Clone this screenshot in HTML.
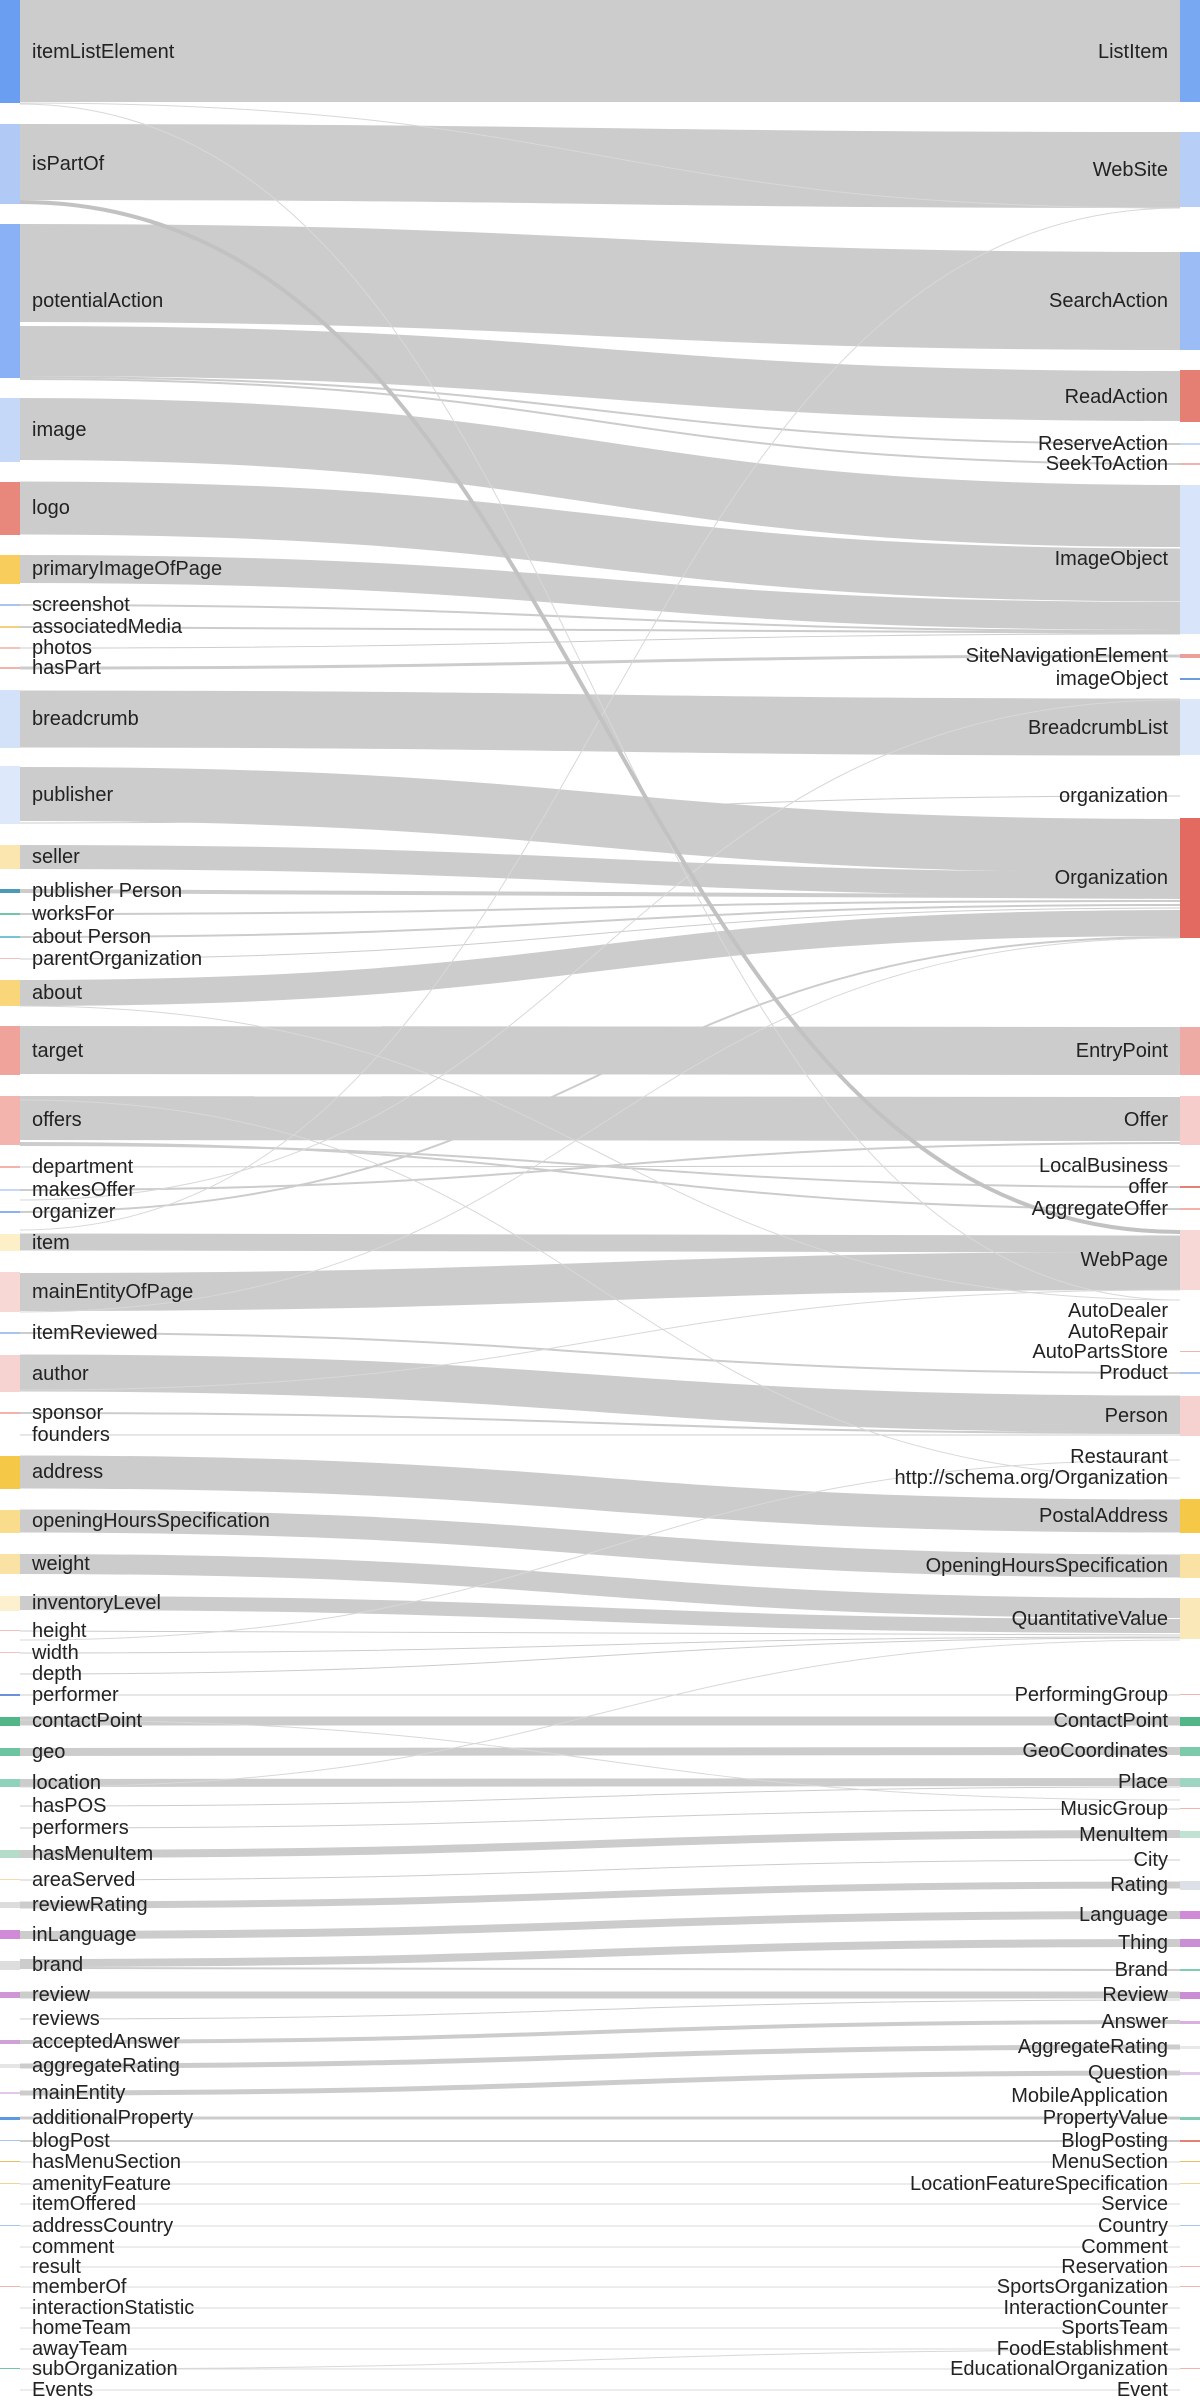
<!DOCTYPE html>
<html><head><meta charset="utf-8"><style>
html,body{margin:0;padding:0;background:#fff;}
svg{display:block;}
text{font-family:"Liberation Sans",sans-serif;font-size:20px;fill:#222;dominant-baseline:central;}
.r{text-anchor:end;}
</style></head><body>
<svg width="1200" height="2400" viewBox="0 0 1200 2400" xmlns="http://www.w3.org/2000/svg">
<g fill="none" stroke="#cccccc">
<path d="M20,51 C600,51 600,51 1180,51" stroke-width="102"/>
<path d="M20,162 C600,162 600,170 1180,170" stroke-width="76"/>
<path d="M20,273 C600,273 600,301 1180,301" stroke-width="98"/>
<path d="M20,351 C600,351 600,396 1180,396" stroke-width="50"/>
<path d="M20,429 C600,429 600,516 1180,516" stroke-width="62"/>
<path d="M20,508 C600,508 600,575 1180,575" stroke-width="53"/>
<path d="M20,569 C600,569 600,616 1180,616" stroke-width="28"/>
<path d="M20,719 C600,719 600,727 1180,727" stroke-width="57"/>
<path d="M20,794 C600,794 600,846 1180,846" stroke-width="54"/>
<path d="M20,857 C600,857 600,884 1180,884" stroke-width="24"/>
<path d="M20,993 C600,993 600,923 1180,923" stroke-width="26"/>
<path d="M20,1050 C600,1050 600,1051 1180,1051" stroke-width="48"/>
<path d="M20,1118 C600,1118 600,1119 1180,1119" stroke-width="44"/>
<path d="M20,1242 C600,1242 600,1244 1180,1244" stroke-width="17"/>
<path d="M20,1292 C600,1292 600,1271 1180,1271" stroke-width="38"/>
<path d="M20,1373 C600,1373 600,1414 1180,1414" stroke-width="37"/>
<path d="M20,1472 C600,1472 600,1516 1180,1516" stroke-width="33"/>
<path d="M20,1521 C600,1521 600,1566 1180,1566" stroke-width="23"/>
<path d="M20,1564 C600,1564 600,1608 1180,1608" stroke-width="20"/>
<path d="M20,1603 C600,1603 600,1626 1180,1626" stroke-width="14"/>
<path d="M20,1721 C600,1721 600,1721 1180,1721" stroke-width="9"/>
<path d="M20,1752 C600,1752 600,1751 1180,1751" stroke-width="8"/>
<path d="M20,1783 C600,1783 600,1782 1180,1782" stroke-width="8"/>
<path d="M20,1854 C600,1854 600,1834 1180,1834" stroke-width="8"/>
<path d="M20,1905 C600,1905 600,1885 1180,1885" stroke-width="7"/>
<path d="M20,1935 C600,1935 600,1915 1180,1915" stroke-width="8"/>
<path d="M20,1963 C600,1963 600,1943 1180,1943" stroke-width="8"/>
<path d="M20,1995 C600,1995 600,1995 1180,1995" stroke-width="7"/>
<path d="M20,2042 C600,2042 600,2022 1180,2022" stroke-width="4"/>
<path d="M20,2066 C600,2066 600,2047 1180,2047" stroke-width="5"/>
<path d="M20,2093 C600,2093 600,2073 1180,2073" stroke-width="5"/>
<path d="M20,2118 C600,2118 600,2118 1180,2118" stroke-width="3"/>
<path d="M20,2141 C600,2141 600,2141 1180,2141" stroke-width="2"/>
<path d="M20,1968 C600,1968 600,1970 1180,1970" stroke-width="2"/>
<path d="M20,891 C600,891 600,897 1180,897" stroke-width="4"/>
<path d="M20,914 C600,914 600,901 1180,901" stroke-width="2"/>
<path d="M20,937 C600,937 600,905 1180,905" stroke-width="2"/>
<path d="M20,959 C600,959 600,908 1180,908" stroke-width="1"/>
<path d="M20,605 C600,605 600,631 1180,631" stroke-width="2"/>
<path d="M20,627 C600,627 600,633 1180,633" stroke-width="2"/>
<path d="M20,648 C600,648 600,634 1180,634" stroke-width="1"/>
<path d="M20,668 C600,668 600,656 1180,656" stroke-width="3"/>
<path d="M20,377 C600,377 600,444 1180,444" stroke-width="2"/>
<path d="M20,379 C600,379 600,464 1180,464" stroke-width="2"/>
<path d="M20,1190 C600,1190 600,1143 1180,1143" stroke-width="2"/>
<path d="M20,1167 C600,1167 600,1166 1180,1166" stroke-width="1"/>
<path d="M20,1212 C600,1212 600,937 1180,937" stroke-width="2"/>
<path d="M20,1333 C600,1333 600,1373 1180,1373" stroke-width="2"/>
<path d="M20,1413 C600,1413 600,1433 1180,1433" stroke-width="2"/>
<path d="M20,1435 C600,1435 600,1435 1180,1435" stroke-width="1"/>
<path d="M20,1631 C600,1631 600,1635 1180,1635" stroke-width="1"/>
<path d="M20,1653 C600,1653 600,1637 1180,1637" stroke-width="1"/>
<path d="M20,1674 C600,1674 600,1638 1180,1638" stroke-width="1"/>
<path d="M20,1695 C600,1695 600,1695 1180,1695" stroke-width="1"/>
<path d="M20,1806 C600,1806 600,1787 1180,1787" stroke-width="1"/>
<path d="M20,1828 C600,1828 600,1809 1180,1809" stroke-width="1"/>
<path d="M20,1880 C600,1880 600,1860 1180,1860" stroke-width="1"/>
<path d="M20,2019 C600,2019 600,2000 1180,2000" stroke-width="1"/>
<path d="M20,1145 C600,1145 600,1187 1180,1187" stroke-width="2"/>
<path d="M20,1143 C600,1143 600,1209 1180,1209" stroke-width="2"/>
<path d="M20,823 C600,823 600,796 1180,796" stroke-width="1"/>
</g>
<g fill="none" stroke="#d8d8d8" stroke-width="1">
<path d="M20,2162 L1180,2162"/><path d="M20,2184 L1180,2184"/><path d="M20,2204 L1180,2204"/>
<path d="M20,2226 L1180,2226"/><path d="M20,2247 L1180,2247"/><path d="M20,2267 L1180,2267"/>
<path d="M20,2287 L1180,2287"/><path d="M20,2308 L1180,2308"/><path d="M20,2328 L1180,2328"/>
<path d="M20,2349 L1180,2349"/><path d="M20,2369 L1180,2369"/><path d="M20,2390 L1180,2390"/>
<path d="M20,103 C600,103 600,208 1180,208"/>
<path d="M20,104 C600,104 600,1300 1180,1300"/>
<path d="M20,1230 C600,1230 600,208 1180,208"/>
<path d="M20,1200 C600,1200 600,700 1180,700"/>
<path d="M20,1312 C600,1312 600,938 1180,938"/>
<path d="M20,1390 C600,1390 600,1290 1180,1290"/>
<path d="M20,1006 C600,1006 600,1300 1180,1300"/>
<path d="M20,1787 C600,1787 600,1640 1180,1640"/>
<path d="M20,1720 C600,1720 600,1800 1180,1800"/>
<path d="M20,1640 C600,1640 600,1460 1180,1460"/>
<path d="M20,1100 C600,1100 600,1478 1180,1478"/>
<path d="M20,2369 C600,2369 600,2350 1180,2350"/>
</g>
<path d="M20,202 C600,202 600,1232 1180,1232" fill="none" stroke="#c2c2c2" stroke-width="4"/>
<!-- left bars -->
<g>
<rect x="0" y="0" width="20" height="103" fill="#6a9ef0"/>
<rect x="0" y="124" width="20" height="80" fill="#b0c9f5"/>
<rect x="0" y="224" width="20" height="154" fill="#8ab0f5"/>
<rect x="0" y="398" width="20" height="64" fill="#c6d8f8"/>
<rect x="0" y="482" width="20" height="53" fill="#e8877c"/>
<rect x="0" y="555" width="20" height="29" fill="#f8cd5c"/>
<rect x="0" y="604" width="20" height="2" fill="#a9c4ef"/>
<rect x="0" y="626" width="20" height="2" fill="#f2d080"/>
<rect x="0" y="647" width="20" height="2" fill="#f6c2bd"/>
<rect x="0" y="667" width="20" height="2" fill="#f3b2ac"/>
<rect x="0" y="690" width="20" height="58" fill="#d4e2f9"/>
<rect x="0" y="766" width="20" height="58" fill="#dde8fb"/>
<rect x="0" y="845" width="20" height="24" fill="#fbe6b0"/>
<rect x="0" y="889" width="20" height="4" fill="#4a9ab8"/>
<rect x="0" y="913" width="20" height="2" fill="#6fc6a8"/>
<rect x="0" y="936" width="20" height="2" fill="#78c2d8"/>
<rect x="0" y="958" width="20" height="1" fill="#f3c0bb"/>
<rect x="0" y="980" width="20" height="26" fill="#f9d67a"/>
<rect x="0" y="1026" width="20" height="49" fill="#efa39a"/>
<rect x="0" y="1096" width="20" height="49" fill="#f4b4ae"/>
<rect x="0" y="1166" width="20" height="2" fill="#f3b2ac"/>
<rect x="0" y="1189" width="20" height="2" fill="#c6d8f8"/>
<rect x="0" y="1211" width="20" height="2" fill="#8ab0f5"/>
<rect x="0" y="1234" width="20" height="17" fill="#fdefc8"/>
<rect x="0" y="1272" width="20" height="40" fill="#f8d8d5"/>
<rect x="0" y="1332" width="20" height="2" fill="#a9c4ef"/>
<rect x="0" y="1355" width="20" height="37" fill="#f6d3d1"/>
<rect x="0" y="1412" width="20" height="2" fill="#f3b2ac"/>
<rect x="0" y="1456" width="20" height="33" fill="#f6c847"/>
<rect x="0" y="1510" width="20" height="23" fill="#f9dc8c"/>
<rect x="0" y="1554" width="20" height="20" fill="#f9e2a4"/>
<rect x="0" y="1596" width="20" height="15" fill="#fdf0cf"/>
<rect x="0" y="1630" width="20" height="1" fill="#f3c0bb"/>
<rect x="0" y="1652" width="20" height="1" fill="#f3c0bb"/>
<rect x="0" y="1694" width="20" height="2" fill="#6b8fdb"/>
<rect x="0" y="1717" width="20" height="9" fill="#52b688"/>
<rect x="0" y="1748" width="20" height="8" fill="#6dc4a0"/>
<rect x="0" y="1779" width="20" height="8" fill="#8fd1bb"/>
<rect x="0" y="1850" width="20" height="8" fill="#b5dcc9"/>
<rect x="0" y="1879" width="20" height="1" fill="#f5dca0"/>
<rect x="0" y="1902" width="20" height="6" fill="#dcdcdc"/>
<rect x="0" y="1930" width="20" height="9" fill="#d08ad6"/>
<rect x="0" y="1961" width="20" height="9" fill="#dddddd"/>
<rect x="0" y="1992" width="20" height="6" fill="#cf96d6"/>
<rect x="0" y="2040" width="20" height="4" fill="#d0a0d8"/>
<rect x="0" y="2064" width="20" height="4" fill="#e5e5e5"/>
<rect x="0" y="2092" width="20" height="2" fill="#e2c8e8"/>
<rect x="0" y="2117" width="20" height="3" fill="#5c9ae0"/>
<rect x="0" y="2140" width="20" height="1" fill="#a9c4ef"/>
<rect x="0" y="2161" width="20" height="1" fill="#e5c060"/>
<rect x="0" y="2183" width="20" height="1" fill="#eed890"/>
<rect x="0" y="2225" width="20" height="1" fill="#a9c4ef"/>
<rect x="0" y="2286" width="20" height="1" fill="#f3b2ac"/>
<rect x="0" y="2368" width="20" height="1" fill="#6fc6a8"/>
</g>
<!-- right bars -->
<g>
<rect x="1180" y="0" width="20" height="102" fill="#79a8f3"/>
<rect x="1180" y="132" width="20" height="75" fill="#b7cff7"/>
<rect x="1180" y="252" width="20" height="98" fill="#9cbcf5"/>
<rect x="1180" y="370" width="20" height="52" fill="#e57f74"/>
<rect x="1180" y="443" width="20" height="2" fill="#c6d8f8"/>
<rect x="1180" y="463" width="20" height="2" fill="#f3b2ac"/>
<rect x="1180" y="485" width="20" height="149" fill="#d8e4fa"/>
<rect x="1180" y="654" width="20" height="4" fill="#ec9f98"/>
<rect x="1180" y="678" width="20" height="2" fill="#6b9bdb"/>
<rect x="1180" y="699" width="20" height="56" fill="#dde7fa"/>
<rect x="1180" y="818" width="20" height="120" fill="#e26a60"/>
<rect x="1180" y="1027" width="20" height="48" fill="#eeaaa5"/>
<rect x="1180" y="1096" width="20" height="49" fill="#f6cdca"/>
<rect x="1180" y="1186" width="20" height="2" fill="#e57f74"/>
<rect x="1180" y="1208" width="20" height="2" fill="#f3b2ac"/>
<rect x="1180" y="1230" width="20" height="60" fill="#f8d8d6"/>
<rect x="1180" y="1351" width="20" height="1" fill="#f3b2ac"/>
<rect x="1180" y="1372" width="20" height="2" fill="#a9c4ef"/>
<rect x="1180" y="1396" width="20" height="40" fill="#f5d2d0"/>
<rect x="1180" y="1499" width="20" height="34" fill="#f6c847"/>
<rect x="1180" y="1554" width="20" height="24" fill="#f9e2a4"/>
<rect x="1180" y="1598" width="20" height="41" fill="#fbe8b8"/>
<rect x="1180" y="1694" width="20" height="1" fill="#f3b2ac"/>
<rect x="1180" y="1717" width="20" height="9" fill="#52b688"/>
<rect x="1180" y="1747" width="20" height="9" fill="#7ccaaa"/>
<rect x="1180" y="1778" width="20" height="9" fill="#9ed5c2"/>
<rect x="1180" y="1808" width="20" height="1" fill="#f3b2ac"/>
<rect x="1180" y="1831" width="20" height="7" fill="#c0e2d2"/>
<rect x="1180" y="1881" width="20" height="9" fill="#dde0e6"/>
<rect x="1180" y="1911" width="20" height="8" fill="#d08ad6"/>
<rect x="1180" y="1939" width="20" height="8" fill="#c98ed3"/>
<rect x="1180" y="1969" width="20" height="2" fill="#7fccb0"/>
<rect x="1180" y="1992" width="20" height="7" fill="#c98ed3"/>
<rect x="1180" y="2021" width="20" height="3" fill="#dab0e0"/>
<rect x="1180" y="2046" width="20" height="3" fill="#e8e8e8"/>
<rect x="1180" y="2072" width="20" height="3" fill="#e2c8e8"/>
<rect x="1180" y="2117" width="20" height="3" fill="#7fccb0"/>
<rect x="1180" y="2140" width="20" height="2" fill="#e57f74"/>
<rect x="1180" y="2161" width="20" height="1" fill="#e5c060"/>
<rect x="1180" y="2183" width="20" height="1" fill="#eed890"/>
<rect x="1180" y="2225" width="20" height="1" fill="#a9c4ef"/>
<rect x="1180" y="2266" width="20" height="1" fill="#f3b2ac"/>
<rect x="1180" y="2286" width="20" height="1" fill="#f3b2ac"/>
<rect x="1180" y="2368" width="20" height="1" fill="#f3b2ac"/>
</g>
<!-- left labels -->
<g>
<text x="32" y="52">itemListElement</text>
<text x="32" y="164">isPartOf</text>
<text x="32" y="301">potentialAction</text>
<text x="32" y="430">image</text>
<text x="32" y="508">logo</text>
<text x="32" y="569">primaryImageOfPage</text>
<text x="32" y="605">screenshot</text>
<text x="32" y="627">associatedMedia</text>
<text x="32" y="648">photos</text>
<text x="32" y="668">hasPart</text>
<text x="32" y="719">breadcrumb</text>
<text x="32" y="795">publisher</text>
<text x="32" y="857">seller</text>
<text x="32" y="891">publisher Person</text>
<text x="32" y="914">worksFor</text>
<text x="32" y="937">about Person</text>
<text x="32" y="959">parentOrganization</text>
<text x="32" y="993">about</text>
<text x="32" y="1051">target</text>
<text x="32" y="1120">offers</text>
<text x="32" y="1167">department</text>
<text x="32" y="1190">makesOffer</text>
<text x="32" y="1212">organizer</text>
<text x="32" y="1243">item</text>
<text x="32" y="1292">mainEntityOfPage</text>
<text x="32" y="1333">itemReviewed</text>
<text x="32" y="1374">author</text>
<text x="32" y="1413">sponsor</text>
<text x="32" y="1435">founders</text>
<text x="32" y="1472">address</text>
<text x="32" y="1521">openingHoursSpecification</text>
<text x="32" y="1564">weight</text>
<text x="32" y="1603">inventoryLevel</text>
<text x="32" y="1631">height</text>
<text x="32" y="1653">width</text>
<text x="32" y="1674">depth</text>
<text x="32" y="1695">performer</text>
<text x="32" y="1721">contactPoint</text>
<text x="32" y="1752">geo</text>
<text x="32" y="1783">location</text>
<text x="32" y="1806">hasPOS</text>
<text x="32" y="1828">performers</text>
<text x="32" y="1854">hasMenuItem</text>
<text x="32" y="1880">areaServed</text>
<text x="32" y="1905">reviewRating</text>
<text x="32" y="1935">inLanguage</text>
<text x="32" y="1965">brand</text>
<text x="32" y="1995">review</text>
<text x="32" y="2019">reviews</text>
<text x="32" y="2042">acceptedAnswer</text>
<text x="32" y="2066">aggregateRating</text>
<text x="32" y="2093">mainEntity</text>
<text x="32" y="2118">additionalProperty</text>
<text x="32" y="2141">blogPost</text>
<text x="32" y="2162">hasMenuSection</text>
<text x="32" y="2184">amenityFeature</text>
<text x="32" y="2204">itemOffered</text>
<text x="32" y="2226">addressCountry</text>
<text x="32" y="2247">comment</text>
<text x="32" y="2267">result</text>
<text x="32" y="2287">memberOf</text>
<text x="32" y="2308">interactionStatistic</text>
<text x="32" y="2328">homeTeam</text>
<text x="32" y="2349">awayTeam</text>
<text x="32" y="2369">subOrganization</text>
<text x="32" y="2390">Events</text>
</g>
<!-- right labels -->
<g class="r">
<text class="r" x="1168" y="52">ListItem</text>
<text class="r" x="1168" y="170">WebSite</text>
<text class="r" x="1168" y="301">SearchAction</text>
<text class="r" x="1168" y="397">ReadAction</text>
<text class="r" x="1168" y="444">ReserveAction</text>
<text class="r" x="1168" y="464">SeekToAction</text>
<text class="r" x="1168" y="559">ImageObject</text>
<text class="r" x="1168" y="656">SiteNavigationElement</text>
<text class="r" x="1168" y="679">imageObject</text>
<text class="r" x="1168" y="728">BreadcrumbList</text>
<text class="r" x="1168" y="796">organization</text>
<text class="r" x="1168" y="878">Organization</text>
<text class="r" x="1168" y="1051">EntryPoint</text>
<text class="r" x="1168" y="1120">Offer</text>
<text class="r" x="1168" y="1166">LocalBusiness</text>
<text class="r" x="1168" y="1187">offer</text>
<text class="r" x="1168" y="1209">AggregateOffer</text>
<text class="r" x="1168" y="1260">WebPage</text>
<text class="r" x="1168" y="1311">AutoDealer</text>
<text class="r" x="1168" y="1332">AutoRepair</text>
<text class="r" x="1168" y="1352">AutoPartsStore</text>
<text class="r" x="1168" y="1373">Product</text>
<text class="r" x="1168" y="1416">Person</text>
<text class="r" x="1168" y="1457">Restaurant</text>
<text class="r" x="1168" y="1478">http://schema.org/Organization</text>
<text class="r" x="1168" y="1516">PostalAddress</text>
<text class="r" x="1168" y="1566">OpeningHoursSpecification</text>
<text class="r" x="1168" y="1619">QuantitativeValue</text>
<text class="r" x="1168" y="1695">PerformingGroup</text>
<text class="r" x="1168" y="1721">ContactPoint</text>
<text class="r" x="1168" y="1751">GeoCoordinates</text>
<text class="r" x="1168" y="1782">Place</text>
<text class="r" x="1168" y="1809">MusicGroup</text>
<text class="r" x="1168" y="1835">MenuItem</text>
<text class="r" x="1168" y="1860">City</text>
<text class="r" x="1168" y="1885">Rating</text>
<text class="r" x="1168" y="1915">Language</text>
<text class="r" x="1168" y="1943">Thing</text>
<text class="r" x="1168" y="1970">Brand</text>
<text class="r" x="1168" y="1995">Review</text>
<text class="r" x="1168" y="2022">Answer</text>
<text class="r" x="1168" y="2047">AggregateRating</text>
<text class="r" x="1168" y="2073">Question</text>
<text class="r" x="1168" y="2096">MobileApplication</text>
<text class="r" x="1168" y="2118">PropertyValue</text>
<text class="r" x="1168" y="2141">BlogPosting</text>
<text class="r" x="1168" y="2162">MenuSection</text>
<text class="r" x="1168" y="2184">LocationFeatureSpecification</text>
<text class="r" x="1168" y="2204">Service</text>
<text class="r" x="1168" y="2226">Country</text>
<text class="r" x="1168" y="2247">Comment</text>
<text class="r" x="1168" y="2267">Reservation</text>
<text class="r" x="1168" y="2287">SportsOrganization</text>
<text class="r" x="1168" y="2308">InteractionCounter</text>
<text class="r" x="1168" y="2328">SportsTeam</text>
<text class="r" x="1168" y="2349">FoodEstablishment</text>
<text class="r" x="1168" y="2369">EducationalOrganization</text>
<text class="r" x="1168" y="2390">Event</text>
</g>
</svg>
</body></html>
